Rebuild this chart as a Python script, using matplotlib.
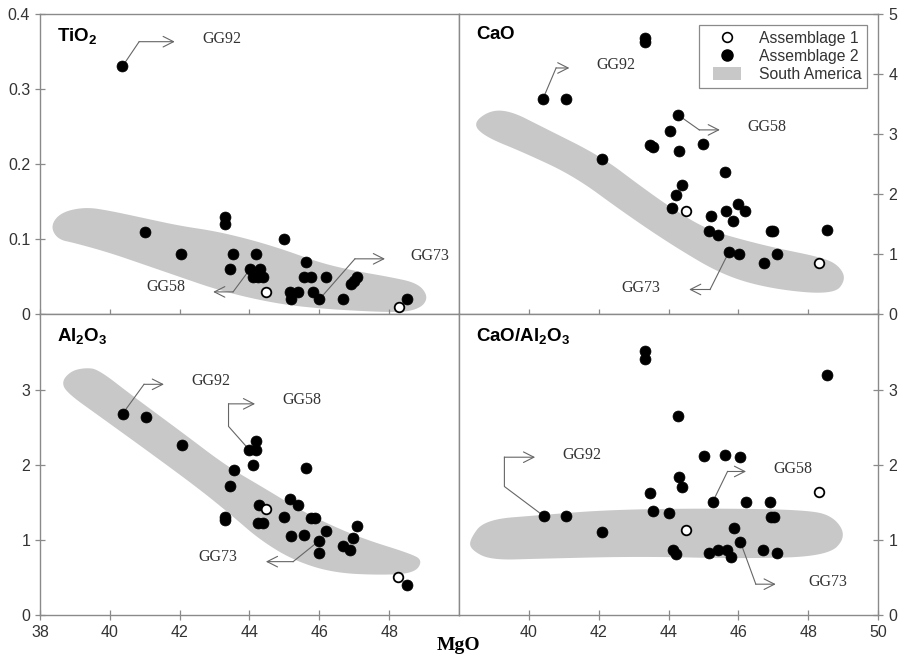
import matplotlib
matplotlib.use("Agg")
import matplotlib.pyplot as plt
import numpy as np
from matplotlib.legend_handler import HandlerPatch
from matplotlib.lines import Line2D
from matplotlib.patches import Patch, Polygon, Rectangle
from matplotlib.ticker import FuncFormatter

plt.rcParams["font.family"] = ["Liberation Sans", "DejaVu Sans"]
plt.rcParams["mathtext.fontset"] = "custom"
plt.rcParams["mathtext.rm"] = "Liberation Sans"
plt.rcParams["mathtext.bf"] = "Liberation Sans:bold"

# ---------------------------------------------------------------------------
# data (MgO on x for every panel)
# ---------------------------------------------------------------------------

# TiO2
tio2_mgo_a2 = [40.36, 41.02, 42.05, 43.30, 43.30, 43.44, 43.53, 44.01, 44.18, 44.30,
               44.11, 44.25, 44.39, 44.98, 45.16, 45.20, 45.40, 45.56, 45.62, 45.75,
               45.81, 46.00, 46.19, 46.68, 46.90, 47.00, 47.07, 48.50]
tio2_a2 = [0.33, 0.11, 0.08, 0.13, 0.12, 0.06, 0.08, 0.06, 0.08, 0.06,
           0.05, 0.05, 0.05, 0.10, 0.03, 0.02, 0.03, 0.05, 0.07, 0.05,
           0.03, 0.02, 0.05, 0.02, 0.04, 0.045, 0.05, 0.02]
tio2_mgo_a1 = [44.47, 48.28]
tio2_a1 = [0.03, 0.01]
tio2_field_x = [38.3, 38.6, 39.3, 40.0, 41.0, 42.0, 43.0, 44.0, 45.0, 46.0, 47.0, 48.0,
                48.8, 49.1, 49.0, 48.6, 48.0, 47.0, 46.0, 45.0, 44.0, 43.0, 42.0, 41.0,
                40.0, 39.0, 38.5]
tio2_field_y = [0.118, 0.136, 0.143, 0.138, 0.128, 0.118, 0.111, 0.100, 0.086, 0.069,
                0.058, 0.050, 0.042, 0.026, 0.012, 0.004, 0.003, 0.005, 0.008, 0.013,
                0.022, 0.034, 0.050, 0.066, 0.082, 0.095, 0.100]

# CaO
cao_mgo_a2 = [40.40, 41.07, 42.09, 43.33, 43.33, 43.48, 43.56, 44.04, 44.10, 44.22,
              44.27, 44.30, 44.40, 45.00, 45.16, 45.23, 45.42, 45.62, 45.64, 45.73,
              45.85, 46.00, 46.02, 46.20, 46.72, 46.93, 47.00, 47.10, 48.55]
cao_a2 = [3.58, 3.58, 2.59, 4.60, 4.54, 2.82, 2.78, 3.05, 1.77, 1.99,
          3.32, 2.72, 2.16, 2.83, 1.38, 1.63, 1.32, 2.37, 1.72, 1.04,
          1.55, 1.83, 1.01, 1.72, 0.86, 1.38, 1.38, 1.01, 1.40]
cao_mgo_a1 = [44.50, 48.30]
cao_a1 = [1.72, 0.86]
cao_field_x = [38.39, 38.9, 39.5, 40.35, 42.07, 43.21, 44.16, 45.12, 46.07, 47.03, 48.46,
               48.9, 49.08, 48.74, 47.03, 45.6, 44.16, 42.73, 41.3, 39.87, 38.73]
cao_field_y = [3.18, 3.40, 3.38, 3.13, 2.63, 2.13, 1.74, 1.41, 1.25, 1.11, 0.94,
               0.80, 0.58, 0.33, 0.415, 0.64, 1.13, 1.69, 2.30, 2.69, 2.96]

# Al2O3
al_mgo_a2 = [40.37, 41.03, 42.06, 43.30, 43.30, 43.44, 43.55, 43.99, 44.10, 44.20,
             44.20, 44.25, 44.28, 44.39, 44.99, 45.16, 45.20, 45.40, 45.57, 45.62,
             45.75, 45.87, 46.00, 46.00, 46.19, 46.68, 46.87, 46.97, 47.07, 48.50]
al_a2 = [2.68, 2.64, 2.26, 1.31, 1.26, 1.72, 1.93, 2.20, 1.99, 2.20,
         2.31, 1.22, 1.47, 1.22, 1.31, 1.55, 1.05, 1.46, 1.07, 1.96,
         1.29, 1.29, 0.99, 0.83, 1.12, 0.92, 0.87, 1.02, 1.18, 0.40]
al_mgo_a1 = [44.47, 48.26]
al_a1 = [1.41, 0.50]
al_field_x = [38.62, 38.9, 39.3, 39.67, 40.67, 42.1, 43.35, 44.49, 45.44, 46.4, 47.35,
              48.59, 48.96, 48.74, 47.83, 46.4, 45.25, 44.3, 43.53, 42.58, 41.15,
              39.72, 38.76]
al_field_y = [3.11, 3.25, 3.29, 3.27, 2.91, 2.42, 1.98, 1.67, 1.40, 1.18, 1.00,
              0.82, 0.73, 0.56, 0.53, 0.56, 0.73, 1.00, 1.31, 1.67, 2.16,
              2.64, 2.96]

# CaO/Al2O3
ratio_mgo_a2 = [40.42, 41.06, 42.09, 43.33, 43.33, 43.48, 43.56, 44.02, 44.12, 44.22,
                44.26, 44.30, 44.40, 45.02, 45.17, 45.26, 45.43, 45.61, 45.68, 45.78,
                45.87, 46.05, 46.06, 46.22, 46.71, 46.91, 46.93, 47.03, 47.10, 48.55]
ratio_a2 = [1.32, 1.32, 1.11, 3.52, 3.41, 1.62, 1.39, 1.36, 0.87, 0.81,
            2.65, 1.84, 1.70, 2.11, 0.83, 1.50, 0.87, 2.13, 0.87, 0.77,
            1.16, 2.10, 0.97, 1.50, 0.86, 1.50, 1.30, 1.30, 0.83, 3.19]
ratio_mgo_a1 = [44.50, 48.30]
ratio_a1 = [1.13, 1.64]
ratio_field_x = [38.3, 38.73, 40.35, 42.26, 45.12, 47.98, 48.74, 49.1, 48.55, 46.07,
                 43.21, 40.35, 38.9, 38.34]
ratio_field_y = [1.00, 1.27, 1.33, 1.40, 1.42, 1.40, 1.31, 1.04, 0.78, 0.75,
                 0.78, 0.75, 0.73, 0.87]

# ---------------------------------------------------------------------------
# styling / layout
# ---------------------------------------------------------------------------
FIELD_COLOR = "#c8c8c8"
FRAME_COLOR = "#8a8a8a"
TEXT_COLOR = "#333333"
LEADER_COLOR = "#666666"


def chaikin(xs, ys, n=4):
    # rounds the corners of the hand-traced outline
    pts = np.column_stack([xs, ys])
    for _ in range(n):
        nxt = np.roll(pts, -1, axis=0)
        q = 0.75 * pts + 0.25 * nxt
        r = 0.25 * pts + 0.75 * nxt
        pts = np.empty((2 * len(q), 2))
        pts[0::2] = q
        pts[1::2] = r
    return pts


def narrow_patch(legend, orig_handle, xdescent, ydescent, width, height, fontsize):
    # grey swatch narrower than the handle box, centred like the markers
    w = 0.62 * width
    return Rectangle((-xdescent + (width - w) / 2, -ydescent), w, height)


# leader lines: (label, sample index, bends, label position)
panels = [
    dict(name=r"$\mathbf{TiO_2}$", x2=tio2_mgo_a2, y2=tio2_a2, x1=tio2_mgo_a1, y1=tio2_a1,
         fx=tio2_field_x, fy=tio2_field_y, ylim=(0, 0.4),
         yticks=[0, 0.1, 0.2, 0.3, 0.4], side="left", bottom=False,
         leaders=[("GG92", 0, [(40.84, 0.363), (41.86, 0.363)], (43.2, 0.366)),
                  ("GG58", 7, [(43.53, 0.030), (42.96, 0.030)], (41.6, 0.037)),
                  ("GG73", 21, [(47.02, 0.074), (47.88, 0.074)], (49.15, 0.0775))]),
    dict(name=r"$\mathbf{CaO}$", x2=cao_mgo_a2, y2=cao_a2, x1=cao_mgo_a1, y1=cao_a1,
         fx=cao_field_x, fy=cao_field_y, ylim=(0, 5),
         yticks=[0, 1, 2, 3, 4, 5], side="right", bottom=False,
         leaders=[("GG92", 0, [(40.78, 4.10), (41.16, 4.10)], (42.49, 4.15)),
                  ("GG58", 10, [(44.88, 3.07), (45.47, 3.07)], (46.82, 3.12)),
                  ("GG73", 19, [(45.19, 0.415), (44.59, 0.415)], (43.21, 0.44))]),
    dict(name=r"$\mathbf{Al_2O_3}$", x2=al_mgo_a2, y2=al_a2, x1=al_mgo_a1, y1=al_a1,
         fx=al_field_x, fy=al_field_y, ylim=(0, 4),
         yticks=[0, 1, 2, 3], side="left", bottom=True,
         leaders=[("GG92", 0, [(40.98, 3.07), (41.55, 3.07)], (42.89, 3.11)),
                  ("GG58", 7, [(43.40, 2.51), (43.40, 2.81), (44.16, 2.81)], (45.49, 2.86)),
                  ("GG73", 22, [(45.25, 0.71), (44.47, 0.71)], (43.09, 0.77))]),
    dict(name=r"$\mathbf{CaO/Al_2O_3}$", x2=ratio_mgo_a2, y2=ratio_a2, x1=ratio_mgo_a1,
         y1=ratio_a1, fx=ratio_field_x, fy=ratio_field_y, ylim=(0, 4),
         yticks=[0, 1, 2, 3], side="right", bottom=True,
         leaders=[("GG92", 0, [(39.30, 1.71), (39.30, 2.10), (40.18, 2.10)], (41.51, 2.13)),
                  ("GG58", 15, [(45.69, 1.91), (46.22, 1.91)], (47.55, 1.94)),
                  ("GG73", 22, [(46.50, 0.41), (47.07, 0.41)], (48.55, 0.44))]),
]

fig, axes = plt.subplots(2, 2, figsize=(9.0, 6.61), dpi=100)
fig.subplots_adjust(left=0.0444, right=0.9756, top=0.979, bottom=0.0696,
                    wspace=0, hspace=0)

for ax, p in zip(axes.flat, panels):
    ax.add_patch(Polygon(chaikin(p["fx"], p["fy"]), closed=True,
                         facecolor=FIELD_COLOR, edgecolor="none", zorder=1))

    for label, idx, bends, lpos in p["leaders"]:
        path = [(p["x2"][idx], p["y2"][idx])] + bends
        xs, ys = zip(*path)
        ax.plot(xs[:-1], ys[:-1], color=LEADER_COLOR, lw=0.8, zorder=2)
        ax.annotate("", xy=path[-1], xytext=path[-2],
                    arrowprops=dict(arrowstyle="->,head_length=0.75,head_width=0.38",
                                    color=LEADER_COLOR, lw=0.8,
                                    shrinkA=0, shrinkB=0), zorder=2)
        ax.text(lpos[0], lpos[1], label, family="Liberation Serif", fontsize=11.5,
                color=TEXT_COLOR, ha="center", va="center", zorder=3)

    ax.scatter(p["x2"], p["y2"], s=62, color="black", edgecolors="black",
               linewidths=0.5, zorder=4)
    ax.scatter(p["x1"], p["y1"], s=48, facecolors="white", edgecolors="black",
               linewidths=1.3, zorder=5)

    ax.set_xlim(38, 50)
    ax.set_ylim(*p["ylim"])
    for sp in ax.spines.values():
        sp.set_color(FRAME_COLOR)
        sp.set_linewidth(1.0)

    if p["side"] == "left":
        ax.set_xticks([38, 40, 42, 44, 46, 48])
    else:
        ax.set_xticks([40, 42, 44, 46, 48, 50])
    ax.set_yticks(p["yticks"])
    ax.yaxis.set_major_formatter(FuncFormatter(lambda v, _: f"{v:g}"))
    ax.tick_params(axis="both", direction="inout", length=7, width=0.9,
                   color=FRAME_COLOR, labelcolor=TEXT_COLOR, labelsize=11.5)
    ax.tick_params(axis="x", labelbottom=p["bottom"], pad=4)
    if p["side"] == "right":
        ax.yaxis.tick_right()
        ax.tick_params(axis="y", pad=4)

    ax.text(0.041, 0.96, p["name"], transform=ax.transAxes, fontsize=13.5,
            ha="left", va="top", color="black", zorder=6)

# legend in the CaO panel
handles = [
    Line2D([], [], ls="none", marker="o", markersize=7, markerfacecolor="white",
           markeredgecolor="black", markeredgewidth=1.2, label="Assemblage 1"),
    Line2D([], [], ls="none", marker="o", markersize=8, markerfacecolor="black",
           markeredgecolor="black", label="Assemblage 2"),
    Patch(facecolor=FIELD_COLOR, edgecolor="none", label="South America"),
]
leg = axes[0, 1].legend(handles=handles, loc="upper right",
                        bbox_to_anchor=(0.974, 0.962), borderaxespad=0,
                        fontsize=11.3, fancybox=False, framealpha=1,
                        edgecolor=FRAME_COLOR, labelspacing=0.2,
                        handlelength=2.9, handleheight=0.85, handletextpad=0.6,
                        borderpad=0.35,
                        handler_map={Patch: HandlerPatch(patch_func=narrow_patch)})
leg.get_frame().set_linewidth(0.9)
for t in leg.get_texts():
    t.set_color(TEXT_COLOR)

fig.text(458 / 900, 1 - 645 / 661, "MgO", family="Liberation Serif",
         fontweight="bold", fontsize=14, ha="center", va="center")

fig.savefig("out.png", dpi=100)
